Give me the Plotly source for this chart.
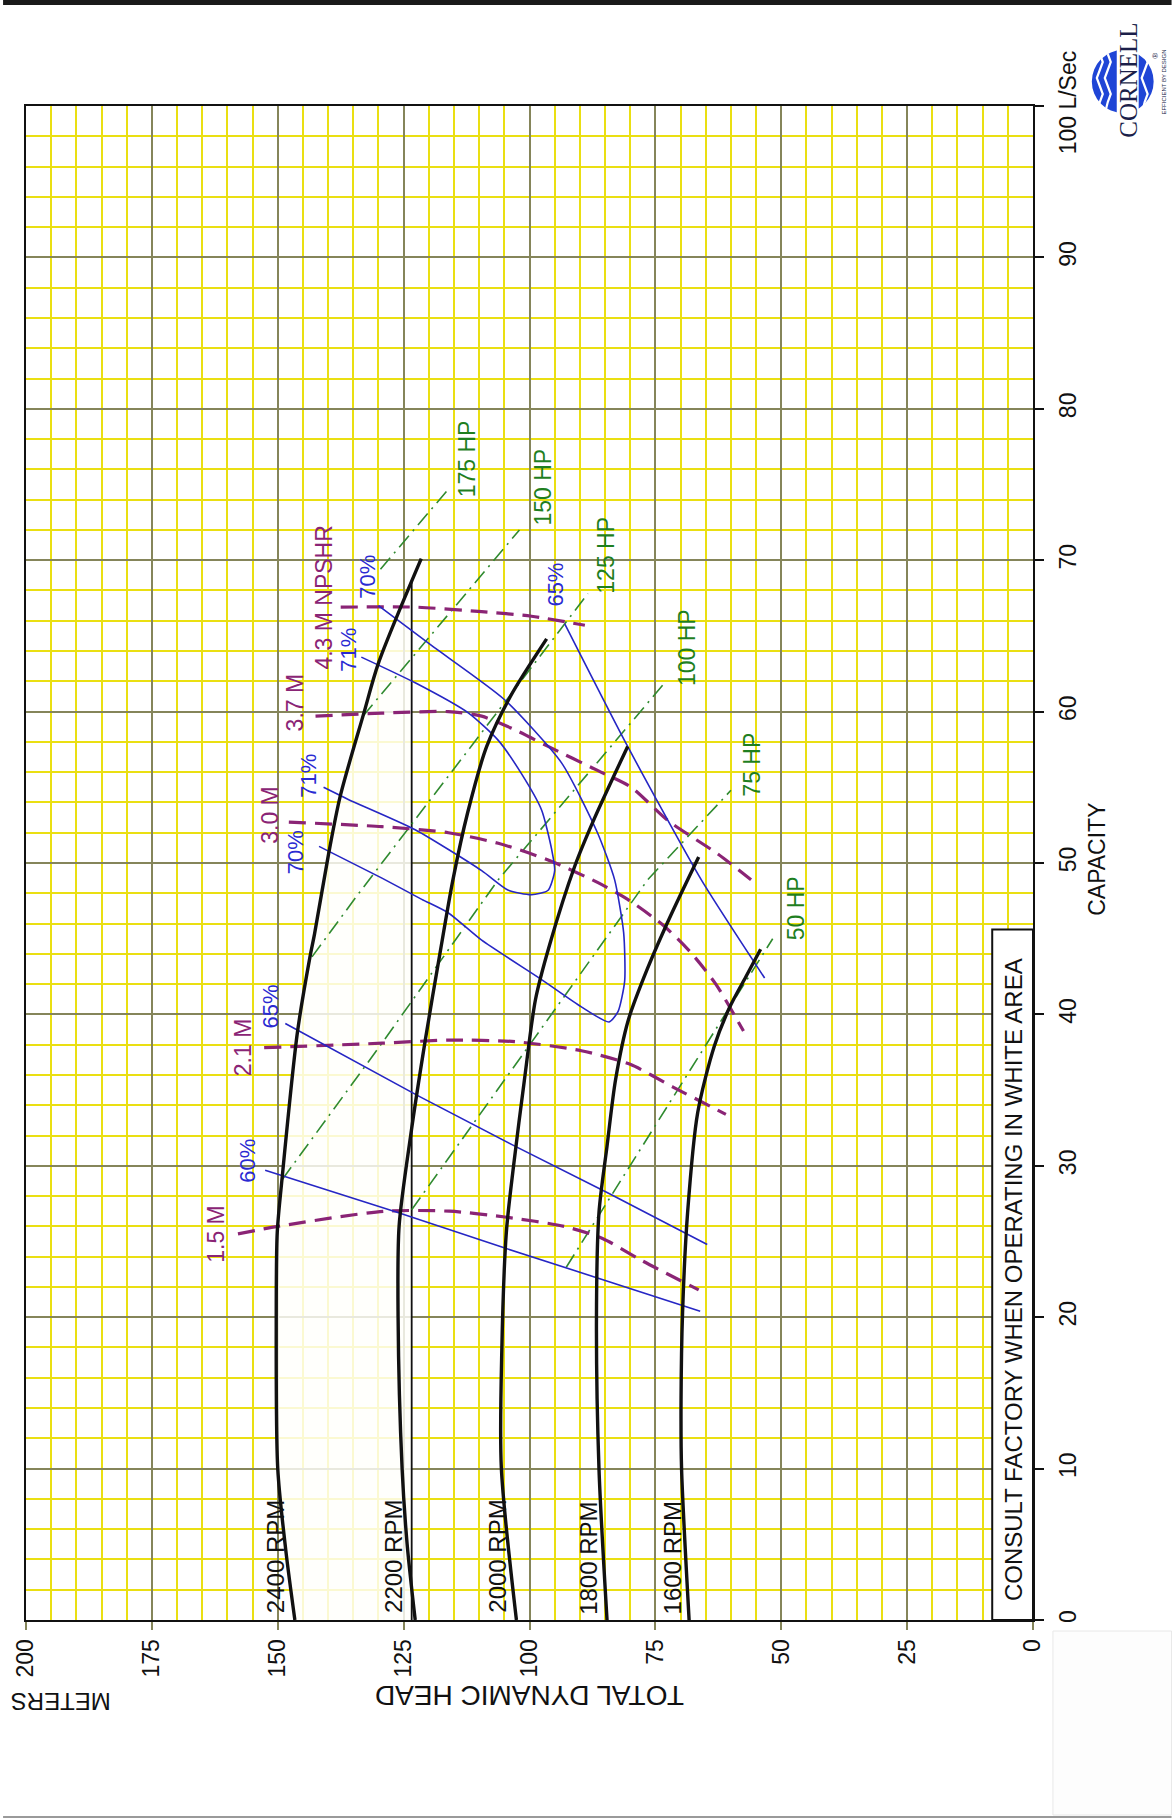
import numpy as np
import plotly.graph_objects as go

# ---------------- DATA (head in m, capacity in L/s) ----------------
head_ticks = [0, 25, 50, 75, 100, 125, 150, 175, 200]
cap_ticks = [0, 10, 20, 30, 40, 50, 60, 70, 80, 90, 100]
cap_tick_text = ["0", "10", "20", "30", "40", "50", "60", "70", "80", "90", "100 L/Sec"]

rpm_names = ["2400 RPM", "2200 RPM", "2000 RPM", "1800 RPM", "1600 RPM"]
cap_2400 = [0, 4.6, 10, 20, 25.6, 29.3, 38.8, 43.8, 45.3, 50.6, 54.4, 59.9, 63.2, 70.1]
head_2400 = [146.6, 148.4, 150.0, 150.3, 150.1, 149.1, 146.1, 143.6, 142.7, 139.9, 137.6, 132.9, 130.0, 121.5]
cap_2200 = [0, 5, 10, 20, 26, 32, 38.3, 44, 48.9, 53.3, 57.7, 61, 64.8]
head_2200 = [122.7, 124.3, 125.3, 126.1, 125.9, 123.6, 120.7, 117.8, 115.2, 112.3, 108.5, 103.8, 96.6]
cap_2000 = [0, 10.1, 17.8, 25.6, 29.9, 35.7, 41, 44.6, 49.8, 52.8, 57.7]
head_2000 = [102.6, 105.6, 105.5, 104.6, 103.2, 101.0, 98.8, 96.0, 91.0, 87.3, 80.5]
cap_1800 = [0, 10, 20, 26.9, 31.3, 35.7, 39.6, 43.0, 46.5, 50.4]
head_1800 = [84.6, 86.2, 86.7, 86.2, 84.6, 82.9, 80.4, 76.6, 72.0, 66.4]
cap_1600 = [0, 10, 14.5, 20.3, 26.9, 33.5, 37.9, 40.5, 42.5, 44.3]
head_1600 = [68.3, 69.8, 69.9, 69.6, 68.6, 66.6, 63.3, 60.2, 57.0, 54.1]

white_area_edge_head = 123.4   # vertical boundary line of the white area

# efficiency contours
eff60_head = [152.5, 126.0, 105.2, 66.1]
eff60_cap = [29.7, 26.9, 24.6, 20.4]
eff65a_head = [148.5, 122.0, 102.9, 84.4, 64.7]
eff65a_cap = [39.4, 34.6, 31.3, 28.2, 24.8]
eff65b_head = [93.0, 80.5, 65.9, 53.3]
eff65b_cap = [65.8, 57.7, 48.9, 42.4]
eff70_head = [130.0, 119.6, 105.0, 93.6, 86.5, 83.1, 81.3, 81.1, 82.4, 84.2, 89.7, 97.6, 109.5, 116.1, 121.4, 129.3, 141.8]
eff70_cap = [67.0, 64.4, 60.8, 56.6, 52.0, 48.9, 45.4, 42.2, 40.2, 39.5, 40.5, 42.3, 44.9, 46.7, 47.6, 49.0, 51.1]
eff71_head = [133.4, 122.7, 112.1, 106.2, 101.6, 97.6, 95.6, 95.0, 96.3, 99.6, 104.2, 109.5, 122.7, 136.0, 140.9]
eff71_cap = [63.6, 61.9, 59.9, 58.1, 55.9, 53.5, 50.9, 49.5, 48.2, 47.9, 48.2, 49.5, 52.2, 54.2, 55.0]

# NPSHR curves
npsh15_head = [157.9, 150.0, 128.8, 115.9, 104.5, 93.1, 85.5, 78.0, 66.4]
npsh15_cap = [25.5, 26.0, 27.0, 27.0, 26.6, 26.0, 25.2, 23.8, 21.8]
npsh21_head = [152.7, 129.3, 116.1, 102.9, 89.7, 80.0, 71.5, 61.0]
npsh21_cap = [37.8, 38.1, 38.3, 38.2, 37.6, 36.7, 35.2, 33.4]
npsh30_head = [147.8, 129.3, 116.1, 106.2, 96.3, 86.4, 80.5, 73.5, 68.0, 63.0, 57.5]
npsh30_cap = [52.7, 52.4, 52.0, 51.3, 50.2, 48.7, 47.6, 45.9, 44.1, 42.0, 38.9]
npsh37_head = [142.5, 129.3, 116.1, 109.5, 102.9, 96.3, 86.4, 79.8, 72.5, 62.6, 56.0]
npsh37_cap = [59.7, 59.9, 60.0, 59.7, 58.8, 57.7, 56.1, 55.0, 52.8, 50.6, 48.9]
npsh43_head = [137.5, 122.7, 109.5, 99.6, 89.0]
npsh43_cap = [66.9, 66.9, 66.6, 66.3, 65.7]

# horsepower lines
hp50_head = [92.7, 51.7]
hp50_cap = [23.3, 45.0]
hp75_head = [123.4, 76.5, 60.0]
hp75_cap = [27.1, 48.9, 54.8]
hp100_head = [149.1, 129.3, 106.2, 72.9]
hp100_cap = [29.1, 38.1, 48.9, 62.0]
hp125_head = [143.2, 133.9, 88.4]
hp125_cap = [43.8, 48.0, 67.8]
hp150_head = [133.1, 102.0]
hp150_cap = [59.7, 72.0]
hp175_head = [129.6, 116.1]
hp175_cap = [69.4, 74.7]

# ---------------- STYLE / LAYOUT ----------------
FONT = "Liberation Sans, Arial, sans-serif"
BLACK = "#111111"
BLUE = "#2626c4"
BLUE_TXT = "#2a2ad2"
PURPLE = "#8a2475"
GREEN = "#2f8a2f"
GREEN_TXT = "#1f7f1f"
MAJOR = "#85855a"
MINOR = "#eadf12"

L, R, T, B = 23, 1033, 106, 1620
W, H = R - L, B - T


def px(x):
    return (x - L) / W


def py(y):
    return (B - y) / H


fig = go.Figure()

# white (consult factory) area: between vertical boundary and the 2400 RPM curve
top_cap = None
for i in range(len(cap_2400) - 1):
    if cap_2400[i] > 30:
        h0, h1 = head_2400[i], head_2400[i + 1]
        if (h0 - white_area_edge_head) * (h1 - white_area_edge_head) <= 0:
            f = (h0 - white_area_edge_head) / (h0 - h1)
            top_cap = cap_2400[i] + f * (cap_2400[i + 1] - cap_2400[i])
            break
poly_x = [white_area_edge_head, white_area_edge_head]
poly_y = [0, top_cap]
for c, h in sorted(zip(cap_2400, head_2400), reverse=True):
    if c < top_cap:
        poly_x.append(h)
        poly_y.append(c)
fig.add_trace(go.Scatter(x=poly_x, y=poly_y, fill="toself", fillcolor="rgba(255,255,251,0.82)",
                         line=dict(width=0), mode="lines", hoverinfo="skip", showlegend=False))
fig.add_trace(go.Scatter(x=[white_area_edge_head, white_area_edge_head], y=[0, top_cap], mode="lines",
                         line=dict(color=BLACK, width=1.8), hoverinfo="skip", showlegend=False))

# HP lines
for hx, hy in [(hp50_head, hp50_cap), (hp75_head, hp75_cap), (hp100_head, hp100_cap),
               (hp125_head, hp125_cap), (hp150_head, hp150_cap), (hp175_head, hp175_cap)]:
    fig.add_trace(go.Scatter(x=hx, y=hy, mode="lines",
                             line=dict(color=GREEN, width=1.6, dash="15px,6px,2px,6px"),
                             hoverinfo="skip", showlegend=False))

# NPSHR curves
for nx, ny in [(npsh15_head, npsh15_cap), (npsh21_head, npsh21_cap), (npsh30_head, npsh30_cap),
               (npsh37_head, npsh37_cap), (npsh43_head, npsh43_cap)]:
    fig.add_trace(go.Scatter(x=nx, y=ny, mode="lines",
                             line=dict(color=PURPLE, width=3.2, dash="17px,9px", shape="spline", smoothing=0.7),
                             hoverinfo="skip", showlegend=False))

# efficiency contours
for ex, ey, sh in [(eff60_head, eff60_cap, "linear"), (eff65a_head, eff65a_cap, "linear"),
                   (eff65b_head, eff65b_cap, "spline"), (eff70_head, eff70_cap, "spline"),
                   (eff71_head, eff71_cap, "spline")]:
    fig.add_trace(go.Scatter(x=ex, y=ey, mode="lines",
                             line=dict(color=BLUE, width=1.6, shape=sh, smoothing=0.6),
                             hoverinfo="skip", showlegend=False))

# RPM curves
for rx, ry in [(head_2400, cap_2400), (head_2200, cap_2200), (head_2000, cap_2000),
               (head_1800, cap_1800), (head_1600, cap_1600)]:
    fig.add_trace(go.Scatter(x=rx, y=ry, mode="lines",
                             line=dict(color=BLACK, width=3.4, shape="spline", smoothing=0.8),
                             hoverinfo="skip", showlegend=False))

annotations = []


def label(text, x, y, color, size=23, angle=-90, xref="x", yref="y", family=FONT):
    annotations.append(dict(text=text, x=x, y=y, xref=xref, yref=yref, showarrow=False,
                            textangle=angle, xanchor="center", yanchor="middle",
                            font=dict(color=color, size=size, family=family)))


rpm_label_pos = [(150.4, 4.2), (127.0, 4.2), (106.4, 4.2), (88.2, 4.1), (71.6, 4.1)]
for name, (x, y) in zip(rpm_names, rpm_label_pos):
    label(name, x, y, BLACK, 24)

eff_labels = [("60%", 156.0, 30.3), ("65%", 151.4, 40.5), ("70%", 146.4, 50.7), ("71%", 143.9, 55.8),
              ("71%", 136.0, 64.1), ("70%", 132.1, 68.9), ("65%", 94.9, 68.4)]
for t, x, y in eff_labels:
    label(t, x, y, BLUE_TXT, 22)

npsh_labels = [("1.5 M", 162.3, 25.5), ("2.1 M", 157.0, 37.8), ("3.0 M", 151.7, 53.2),
               ("3.7 M", 146.6, 60.6), ("4.3 M NPSHR", 140.9, 67.5)]
for t, x, y in npsh_labels:
    label(t, x, y, PURPLE, 23)

hp_labels = [("175 HP", 112.5, 76.7), ("150 HP", 97.5, 74.8), ("125 HP", 84.8, 70.3),
             ("100 HP", 68.7, 64.2), ("75 HP", 55.8, 56.5), ("50 HP", 46.9, 47.0)]
for t, x, y in hp_labels:
    label(t, x, y, GREEN_TXT, 23)

# consult box text
label("CONSULT FACTORY WHEN OPERATING IN WHITE AREA", px(1013), py(1280), BLACK, 24,
      xref="paper", yref="paper")
# axis titles
label("CAPACITY", px(1097), py(859), BLACK, 23, xref="paper", yref="paper")
label("TOTAL DYNAMIC HEAD", px(528), py(1695), BLACK, 28, angle=180, xref="paper", yref="paper")
label("METERS", px(58), py(1702), BLACK, 24, angle=180, xref="paper", yref="paper")
# logo text
label("CORNELL", px(1129), py(80), "#1b1f4a", 25, xref="paper", yref="paper",
      family="Liberation Serif, Times New Roman, serif")
label("EFFICIENT BY DESIGN", px(1164), py(82), "#1b1f4a", 6, xref="paper", yref="paper")
label("®", px(1155), py(56), "#1b1f4a", 8, xref="paper", yref="paper")

shapes = []
# consult box
shapes.append(dict(type="rect", xref="x", yref="y", x0=0, x1=8.1, y0=0, y1=45.6,
                   fillcolor="white", line=dict(color=BLACK, width=2), layer="above"))
# top bar
shapes.append(dict(type="rect", xref="paper", yref="paper", x0=px(0), x1=px(1172), y0=py(5), y1=py(0),
                   fillcolor="#1a1a1a", line=dict(width=0), layer="above"))
# bottom gray rule and blank box
shapes.append(dict(type="line", xref="paper", yref="paper", x0=px(0), x1=px(1172), y0=py(1817), y1=py(1817),
                   line=dict(color="#9a9a9a", width=2)))
shapes.append(dict(type="rect", xref="paper", yref="paper", x0=px(1053), x1=px(1172), y0=py(1815), y1=py(1631),
                   fillcolor="#fdfdfd", line=dict(color="#e8e8e8", width=1)))
# logo circle
shapes.append(dict(type="circle", xref="paper", yref="paper", x0=px(1092), x1=px(1154), y0=py(113), y1=py(50),
                   fillcolor="#1f45d6", line=dict(width=0), layer="above"))
for wx in [1100, 1108, 1145]:
    pts = [(wx, 54), (wx + 3, 62), (wx, 70), (wx - 3, 78), (wx, 86), (wx + 3, 94), (wx, 102), (wx - 2, 110)]
    path = "M {},{} ".format(px(pts[0][0]), py(pts[0][1]))
    path += " ".join("L {},{}".format(px(a), py(b)) for a, b in pts[1:])
    shapes.append(dict(type="path", xref="paper", yref="paper", path=path,
                       line=dict(color="white", width=2.2), layer="above"))
shapes.append(dict(type="rect", xref="paper", yref="paper", x0=px(1117), x1=px(1139), y0=py(118), y1=py(44),
                   fillcolor="white", line=dict(width=0), layer="above"))

fig.update_layout(
    width=1172, height=1820,
    margin=dict(l=L, r=1172 - R, t=T, b=1820 - B),
    paper_bgcolor="white", plot_bgcolor="white",
    showlegend=False,
    annotations=annotations,
    shapes=shapes,
    xaxis=dict(range=[200, 0], tickvals=head_ticks, ticktext=[str(v) for v in head_ticks],
               tickangle=-90, tickfont=dict(size=23, family=FONT, color=BLACK),
               ticks="outside", ticklen=8, tickcolor=MAJOR, tickwidth=1.5,
               showgrid=True, gridcolor=MAJOR, gridwidth=1.5,
               minor=dict(dtick=5, tick0=0, showgrid=True, gridcolor=MINOR, gridwidth=1.5, ticks=""),
               showline=True, linecolor=BLACK, linewidth=2, mirror=True, zeroline=False,
               fixedrange=True),
    yaxis=dict(range=[0, 100], side="right", tickvals=cap_ticks, ticktext=cap_tick_text,
               tickangle=-90, tickfont=dict(size=23, family=FONT, color=BLACK),
               ticks="outside", ticklen=9, tickcolor=BLACK, tickwidth=1.5, ticklabelstandoff=4,
               showgrid=True, gridcolor=MAJOR, gridwidth=1.5,
               minor=dict(dtick=2, tick0=0, showgrid=True, gridcolor=MINOR, gridwidth=1.5, ticks=""),
               showline=True, linecolor=BLACK, linewidth=2, mirror=True, zeroline=False,
               fixedrange=True),
)

fig.write_html("out.html", config={"displayModeBar": False},
               post_script="document.body.style.margin='0px';document.body.style.overflow='hidden';")
